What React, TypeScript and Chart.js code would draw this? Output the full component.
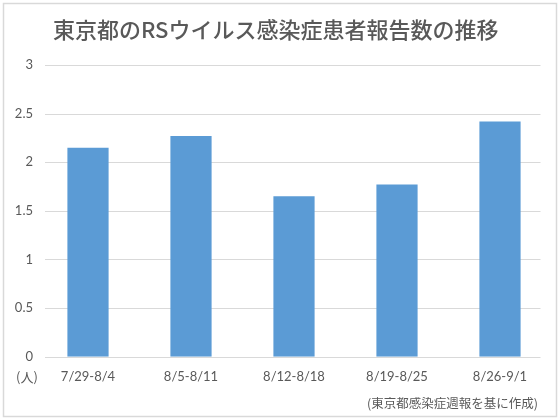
import React, { useEffect, useRef } from "react";
import { Chart, registerables } from "chart.js";

Chart.register(...registerables);

const categories = ["7/29-8/4", "8/5-8/11", "8/12-8/18", "8/19-8/25", "8/26-9/1"];
const reports = [2.15, 2.27, 1.65, 1.77, 2.42];
const titleText = "東京都のRSウイルス感染症患者報告数の推移";
const unitText = "(人)";
const sourceText = "(東京都感染症週報を基に作成)";
const yMin = 0;
const yMax = 3;
const yStep = 0.5;

const textColor = "#595959";
const fontFamily = "Lato, 'Noto Sans CJK JP', sans-serif";
const cjkFamily = "'Noto Sans CJK JP', sans-serif";

const decorPlugin = {
  id: "decor",
  beforeDraw(chart: any) {
    const { ctx, width, height } = chart;
    ctx.save();
    ctx.fillStyle = "#ffffff";
    ctx.fillRect(0, 0, width, height);
    ctx.strokeStyle = "#d9d9d9";
    ctx.lineWidth = 1.5;
    ctx.strokeRect(3.5, 3.5, width - 7, height - 7);
    ctx.restore();
  },
  beforeDatasetsDraw(chart: any) {
    const { ctx, chartArea } = chart;
    const y = chart.scales.y;
    ctx.save();
    ctx.strokeStyle = "#d9d9d9";
    ctx.lineWidth = 1;
    const x0 = chartArea.left + 8.5;
    const x1 = chartArea.right - 11;
    y.ticks.forEach((t: any) => {
      const py = Math.round(y.getPixelForValue(t.value)) + 0.5;
      ctx.beginPath();
      ctx.moveTo(x0, py);
      ctx.lineTo(x1, py);
      ctx.stroke();
    });
    ctx.restore();
  },
  afterDraw(chart: any) {
    const { ctx, chartArea } = chart;
    ctx.save();
    ctx.fillStyle = textColor;
    ctx.textBaseline = "middle";
    ctx.font = `13px ${cjkFamily}`;
    ctx.textAlign = "center";
    ctx.fillText(unitText, 27, chartArea.bottom + 20.5);
    ctx.font = `12.5px ${cjkFamily}`;
    ctx.textAlign = "right";
    ctx.fillText(sourceText, chartArea.right - 13.5, chartArea.bottom + 46.5);
    ctx.restore();
  },
};

export default function App() {
  const ref = useRef<HTMLCanvasElement | null>(null);
  useEffect(() => {
    document.body.style.margin = "0";
    const canvas = ref.current!;
    const chart = new Chart(canvas, {
      type: "bar",
      data: {
        labels: categories,
        datasets: [
          {
            data: reports,
            backgroundColor: "#5B9BD5",
            borderWidth: 0,
            barPercentage: 0.4,
            categoryPercentage: 1,
          },
        ],
      },
      options: {
        responsive: false,
        animation: false,
        devicePixelRatio: 1,
        layout: { padding: { left: 0, right: 8.5, top: 0, bottom: 0 } },
        plugins: {
          legend: { display: false },
          tooltip: { enabled: false },
          title: {
            display: true,
            text: titleText,
            color: textColor,
            font: { family: cjkFamily, size: 22, weight: "500", lineHeight: 1.2 },
            padding: { top: 16, bottom: 22.6 },
          },
        },
        scales: {
          x: {
            grid: { display: false, drawTicks: false },
            border: { display: false },
            ticks: {
              color: textColor,
              font: { family: fontFamily, size: 13 },
              padding: 12.5,
              maxRotation: 0,
              autoSkip: false,
            },
            afterFit(scale: any) {
              scale.height = 63.3;
            },
          },
          y: {
            min: yMin,
            max: yMax,
            grid: { display: false, drawTicks: false },
            border: { display: false },
            ticks: {
              stepSize: yStep,
              color: textColor,
              font: { family: fontFamily, size: 13 },
              padding: 3.5,
              callback: (v: any) => String(Number(v)),
            },
            afterFit(scale: any) {
              scale.width = 36.5;
            },
          },
        },
      },
      plugins: [decorPlugin],
    });
    return () => chart.destroy();
  }, []);
  return <canvas ref={ref} width={560} height={420} style={{ display: "block" }} />;
}
